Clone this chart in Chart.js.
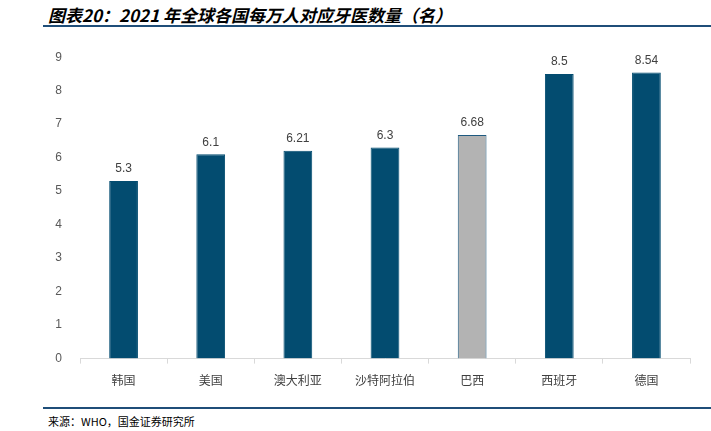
<!DOCTYPE html>
<html>
<head>
<meta charset="utf-8">
<script src="https://cdn.jsdelivr.net/npm/chart.js@4"></script>
<style>
    body { margin: 0; width: 711px; height: 431px; background: #fff; position: relative; overflow: hidden; }
    #title { position: absolute; left: 48px; top: 2px; font: italic bold 17px "Noto Sans CJK SC", sans-serif; color: #000; white-space: nowrap; }
    .rule { position: absolute; left: 43px; right: 0; height: 2px; background: #1f4e79; }
    #source { position: absolute; left: 48px; top: 413px; font: 11px "Noto Sans CJK SC", serif; color: #000; white-space: nowrap; }
    #wrap { position: absolute; left: 43px; top: 40px; width: 660px; height: 358px; }
</style>
</head>
<body>
<div id="title">图表20：2021 年全球各国每万人对应牙医数量（名）</div>
<div class="rule" style="top:25px"></div>
<div id="wrap"><canvas id="dentistChart"></canvas></div>
<div class="rule" style="top:407px"></div>
<div id="source">来源：WHO，国金证券研究所</div>

<script>
// Chart data
const countries = ["韩国", "美国", "澳大利亚", "沙特阿拉伯", "巴西", "西班牙", "德国"];
const dentistsPer10k = [5.3, 6.1, 6.21, 6.3, 6.68, 8.5, 8.54];
const yTicks = [0, 1, 2, 3, 4, 5, 6, 7, 8, 9];

// Brazil is highlighted in grey
const barColors = countries.map(c => c === "巴西" ? "#b3b3b3" : "#034c70");
const borderColors = countries.map(c => c === "巴西" ? "#1f5a80" : "#034c70");

// Value labels above each bar
const valueLabels = {
    id: "valueLabels",
    afterDatasetsDraw(chart) {
        const ctx = chart.ctx;
        const meta = chart.getDatasetMeta(0);
        ctx.save();
        ctx.font = "12px 'Liberation Sans', Arial, sans-serif";
        ctx.fillStyle = "#404040";
        ctx.textAlign = "center";
        ctx.textBaseline = "bottom";
        meta.data.forEach((bar, i) => {
            ctx.fillText(String(dentistsPer10k[i]), bar.x, bar.y - 6);
        });
        ctx.restore();
    },
};

const ctx = document.getElementById("dentistChart").getContext("2d");
new Chart(ctx, {
    type: "bar",
    data: {
        labels: countries,
        datasets: [
            {
                data: dentistsPer10k,
                backgroundColor: barColors,
                borderColor: borderColors,
                borderWidth: 1,
                categoryPercentage: 1,
                barPercentage: 0.33,
            },
        ],
    },
    options: {
        responsive: true,
        maintainAspectRatio: false,
        animation: false,
        layout: { padding: { top: 15, right: 13, bottom: 0, left: 0 } },
        scales: {
            x: {
                grid: { display: true, drawOnChartArea: false, offset: true, tickLength: 5, color: "#d9d9d9" },
                border: { display: true, color: "#d9d9d9" },
                ticks: { color: "#404040", font: { size: 12, family: "'Noto Sans CJK SC', sans-serif" }, padding: 10 },
            },
            y: {
                min: 0,
                max: 9,
                afterBuildTicks(axis) { axis.ticks = yTicks.map(v => ({ value: v })); },
                afterFit(axis) { axis.width = 37; },
                grid: { display: false },
                border: { display: false },
                ticks: { color: "#595959", font: { size: 12, family: "'Liberation Sans', Arial, sans-serif" }, padding: 10 },
            },
        },
        plugins: { legend: { display: false }, tooltip: { enabled: false } },
    },
    plugins: [valueLabels],
});
</script>
</body>
</html>
